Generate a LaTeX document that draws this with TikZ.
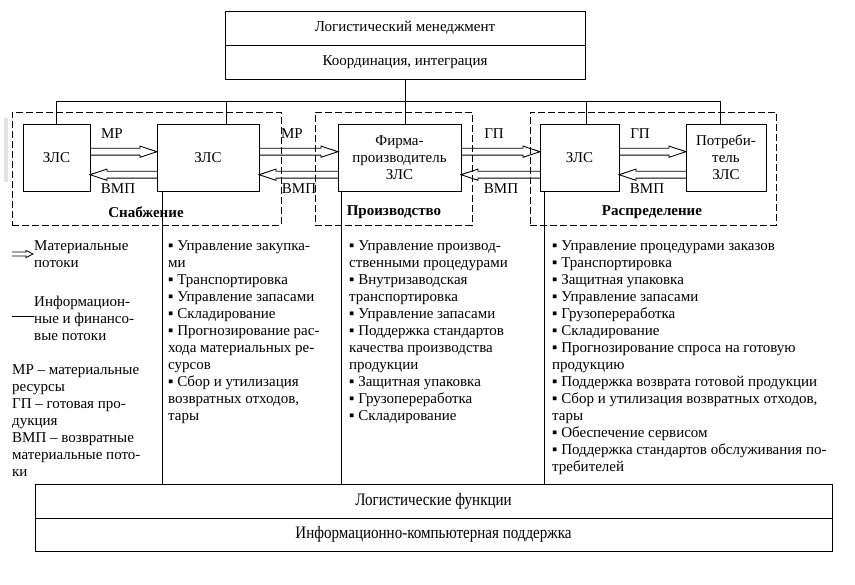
\documentclass[tikz,border=0pt]{standalone}
\usepackage{fontspec}
\setmainfont{Liberation Serif}
\usepackage{graphicx}
\usetikzlibrary{calc}
\newcommand\fs{\fontsize{15}{17}\selectfont}
\newcommand\bigfs{\fontsize{17.5}{18}\selectfont}
\tikzset{
 box/.style={draw, line width=0.9pt, inner sep=0pt, outer sep=0pt, align=center, font=\fs},
 region/.style={draw, dash pattern=on 7pt off 3pt, line width=0.9pt, inner sep=0pt, outer sep=0pt},
 lbl/.style={inner sep=0pt, font=\fs},
 sect/.style={inner sep=0pt, font=\fs\bfseries},
 list/.style={inner sep=0pt, align=left, anchor=north west, font=\fs},
 flow/.style={line width=0.9pt, line join=miter},
 conn/.style={line width=0.9pt},
}
\newcommand\fwdflow[2]{\draw[flow] ([yshift=9.2pt]#1.east) -- ([xshift=-17pt,yshift=9.2pt]#2.west) -- ([xshift=-17pt,yshift=11.4pt]#2.west) -- ([yshift=5.8pt]#2.west) -- ([xshift=-17pt,yshift=0.2pt]#2.west) -- ([xshift=-17pt,yshift=2.4pt]#2.west) -- ([yshift=2.4pt]#1.east);}
\newcommand\backflow[2]{\draw[flow] ([yshift=-13.8pt]#2.west) -- ([xshift=17pt,yshift=-13.8pt]#1.east) -- ([xshift=17pt,yshift=-11.6pt]#1.east) -- ([yshift=-17.2pt]#1.east) -- ([xshift=17pt,yshift=-22.8pt]#1.east) -- ([xshift=17pt,yshift=-20.6pt]#1.east) -- ([yshift=-20.6pt]#2.west);}
\begin{document}
\begin{tikzpicture}[x=1pt,y=-1pt]
\useasboundingbox[fill=white] (0,0) rectangle (855,585);
\fill[gray!22] (4,118) rectangle (8,182);

% top boxes
\node[box, minimum width=360pt, minimum height=34pt] (lm) at (405,28) {Логистический менеджмент};
\node[box, minimum width=360pt, minimum height=34pt] (ki) at (405,62) {Координация, интеграция};

% regions
\node[region, minimum width=269pt, minimum height=113pt] (rs) at (146.5,168.5) {};
\node[region, minimum width=157pt, minimum height=113pt] (rp) at (393.5,168.5) {};
\node[region, minimum width=246pt, minimum height=113pt] (rd) at (653,168.5) {};
\node[sect] (ls) at (146,212.5) {Снабжение};
\node[sect] (lp) at (394,212.5) {Производство};
\node[sect] (ld) at (652,212.5) {Распределение};

% boxes
\node[box, fill=white, minimum width=67pt, minimum height=67pt] (b1) at (56.5,157.5) {ЗЛС};
\node[box, fill=white, minimum width=102pt, minimum height=67pt] (b2) at (208,157.5) {ЗЛС};
\node[box, fill=white, minimum width=123pt, minimum height=67pt] (b3) at (399.5,157.5) {Фирма-\\производитель\\ЗЛС};
\node[box, fill=white, minimum width=79pt, minimum height=67pt] (b4) at (579.5,157.5) {ЗЛС};
\node[box, fill=white, minimum width=80pt, minimum height=67pt] (b5) at (726,157.5) {Потреби-\\тель\\ЗЛС};

% hierarchy lines
\coordinate (bus) at (405,101);
\draw[conn] (ki.south) -- ([xshift=5.5pt]b3.north);
\draw[conn] (b1.north) -- (b1.north |- bus) -- ([xshift=-6pt]b5.north |- bus) -- ([xshift=-6pt]b5.north);
\draw[conn] ([xshift=18pt]b2.north) -- ([xshift=18pt]b2.north |- bus);
\draw[conn] ([xshift=6.5pt]b4.north) -- ([xshift=6.5pt]b4.north |- bus);

% flows
\fwdflow{b1}{b2}
\backflow{b1}{b2}
\fwdflow{b2}{b3}
\backflow{b2}{b3}
\fwdflow{b3}{b4}
\backflow{b3}{b4}
\fwdflow{b4}{b5}
\backflow{b4}{b5}

\node[lbl] (mr1) at (112,134) {МР};
\node[lbl] (vm1) at (118,189) {ВМП};
\node[lbl] (mr2) at (292,134) {МР};
\node[lbl] (vm2) at (299,189) {ВМП};
\node[lbl] (gp1) at (494,134) {ГП};
\node[lbl] (vm3) at (501,189) {ВМП};
\node[lbl] (gp2) at (640,134) {ГП};
\node[lbl] (vm4) at (647,189) {ВМП};

% bottom boxes
\node[box, minimum width=797pt, minimum height=34pt, font=\bigfs] (lf) at (433.5,501) {\scalebox{0.86}[1]{Логистические функции}};
\node[box, minimum width=797pt, minimum height=33pt, font=\bigfs] (ik) at (433.5,534.5) {\scalebox{0.86}[1]{Информационно-компьютерная поддержка}};

\draw[conn] ([xshift=5pt]b2.south west) -- ([xshift=5pt]b2.south west |- lf.north);
\draw[conn] ([xshift=3pt]b3.south west) -- ([xshift=3pt]b3.south west |- lf.north);
\draw[conn] ([xshift=4pt]b4.south west) -- ([xshift=4pt]b4.south west |- lf.north);

% lists
\node[list] (l1) at (168,240) {▪ Управление закупка-\\ми\\▪ Транспортировка\\▪ Управление запасами\\▪ Складирование\\▪ Прогнозирование рас-\\хода материальных ре-\\сурсов\\▪ Сбор и утилизация\\возвратных отходов,\\тары};
\node[list] (l2) at (349,240) {▪ Управление производ-\\ственными процедурами\\▪ Внутризаводская\\транспортировка\\▪ Управление запасами\\▪ Поддержка стандартов\\качества производства\\продукции\\▪ Защитная упаковка\\▪ Грузопереработка\\▪ Складирование};
\node[list] (l3) at (552,240) {▪ Управление процедурами заказов\\▪ Транспортировка\\▪ Защитная упаковка\\▪ Управление запасами\\▪ Грузопереработка\\▪ Складирование\\▪ Прогнозирование спроса на готовую\\продукцию\\▪ Поддержка возврата готовой продукции\\▪ Сбор и утилизация возвратных отходов,\\тары\\▪ Обеспечение сервисом\\▪ Поддержка стандартов обслуживания по-\\требителей};

% legend
\coordinate (la1) at (12,254);
\coordinate (la2) at (33,254);
\draw[flow, line width=0.8pt] ([yshift=2pt]la1) -- ([xshift=-7pt,yshift=2pt]la2) -- ([xshift=-7pt,yshift=3.6pt]la2) -- (la2) -- ([xshift=-7pt,yshift=-3.6pt]la2) -- ([xshift=-7pt,yshift=-2pt]la2) -- ([yshift=-2pt]la1);
\node[list] (lt1) at (34,240) {Материальные\\потоки};
\coordinate (li1) at (12,316);
\coordinate (li2) at (34,316);
\draw[conn] (li1) -- (li2);
\node[list] (lt2) at (34,296) {Информацион-\\ные и финансо-\\вые потоки};
\node[list] (lt3) at (12,364) {МР – материальные\\ресурсы\\ГП – готовая про-\\дукция\\ВМП – возвратные\\материальные пото-\\ки};
\end{tikzpicture}
\end{document}
